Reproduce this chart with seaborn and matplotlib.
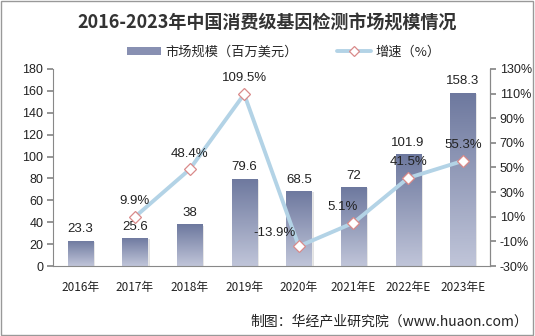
import matplotlib
matplotlib.use("Agg")
import matplotlib.pyplot as plt
import seaborn as sns
import numpy as np
import pandas as pd
from matplotlib.patches import Rectangle
from matplotlib.lines import Line2D
from matplotlib.colors import LinearSegmentedColormap

categories = ["2016年", "2017年", "2018年", "2019年", "2020年", "2021年E", "2022年E", "2023年E"]
market_size = [23.3, 25.6, 38, 79.6, 68.5, 72, 101.9, 158.3]
growth = [None, 9.9, 48.4, 109.5, -13.9, 5.1, 41.5, 55.3]
left_ticks = [0, 20, 40, 60, 80, 100, 120, 140, 160, 180]
right_ticks = [-30, -10, 10, 30, 50, 70, 90, 110, 130]

sns.set_theme(style="white")
plt.rcParams['font.family'] = ['Noto Sans CJK SC', 'DejaVu Sans']
NUM_FONT = "Liberation Sans"

df = pd.DataFrame({"cat": categories, "size": market_size, "growth": growth})

fig = plt.figure(figsize=(5.35, 3.36), dpi=100)
ax = fig.add_axes([0.099, 0.208, 0.817, 0.587])

sns.barplot(data=df, x="cat", y="size", ax=ax, color="#8890b2", width=0.46, zorder=2)
ax.set_ylim(0, 180)
ax.set_xlim(-0.5, len(categories) - 0.5)

# gradient fill on bars + shadow
cmap = LinearSegmentedColormap.from_list("g", ["#c0c5d9", "#6d789e"])
grad = np.linspace(0, 1, 256).reshape(-1, 1)
for p in list(ax.patches):
    x0, w, h = p.get_x(), p.get_width(), p.get_height()
    sh = Rectangle((x0 + 0.04, 0), w, h - 1.0, facecolor="#d0d0d0", edgecolor="none", alpha=0.6, zorder=1.5)
    ax.add_patch(sh)
    im = ax.imshow(grad, extent=[x0, x0 + w, 0, h], origin="lower", aspect="auto", cmap=cmap, zorder=2.5)
    im.set_clip_path(p)
    ax.text(x0 + w / 2, h + 5, f"{h:g}", ha="center", va="bottom", fontsize=9.5, color="#222222",
            family=NUM_FONT, zorder=5)
ax.set_xlim(-0.5, len(categories) - 0.5)
ax.set_ylim(0, 180)

ax.set_yticks(left_ticks)
ax.set_yticklabels([str(t) for t in left_ticks], family=NUM_FONT, fontsize=9)
ax.set_xticks(range(len(categories)))
ax.set_xticklabels(categories, fontsize=8.5)
ax.set_xlabel("")
ax.set_ylabel("")
ax.tick_params(axis="y", length=4, color="#888888", direction="out", left=True, pad=3, colors="#222222")
ax.tick_params(axis="x", length=0, pad=11, colors="#222222")
ax.spines["top"].set_visible(False)
for s in ["left", "bottom", "right"]:
    ax.spines[s].set_color("#888888")
    ax.spines[s].set_linewidth(0.8)

ax2 = ax.twinx()
gx = [i for i, g in enumerate(growth) if g is not None]
gy = [g for g in growth if g is not None]
gdf = pd.DataFrame({"x": gx, "y": gy})
sns.lineplot(data=gdf, x="x", y="y", ax=ax2, color="#b3d3e6", linewidth=2.8, zorder=3,
             marker="D", markersize=6, markerfacecolor="white", markeredgecolor="#d98a8a",
             markeredgewidth=0.9)
ax2.set_ylim(-30, 130)
ax2.set_xlim(-0.5, len(categories) - 0.5)
ax2.set_yticks(right_ticks)
ax2.set_yticklabels([f"{t}%" for t in right_ticks], family=NUM_FONT, fontsize=9)
ax2.set_ylabel("")
ax2.tick_params(axis="y", length=4, color="#888888", direction="out", right=True, pad=3, colors="#222222")
for s in ["top", "left", "bottom"]:
    ax2.spines[s].set_visible(False)
ax2.spines["right"].set_color("#888888")
ax2.spines["right"].set_linewidth(0.8)

offsets = {1: (0, 8), 2: (0, 8), 3: (0, 8), 4: (-0.45, 6), 5: (-0.2, 8), 6: (0, 8), 7: (0, 8)}
for x, y in zip(gx, gy):
    dx, dy = offsets.get(x, (0, 8))
    ax2.text(x + dx, y + dy, f"{y:g}%", ha="center", va="bottom", fontsize=9.5, color="#222222",
             family=NUM_FONT, zorder=6)

fig.text(0.5, 0.93, "2016-2023年中国消费级基因检测市场规模情况", ha="center", va="center",
         fontsize=13, fontweight="bold", color="#333333")

handles = [Rectangle((0, 0), 1, 1, facecolor="#8890b2", edgecolor="none"),
           Line2D([0], [0], color="#b3d3e6", linewidth=2.8, marker="D", markersize=5,
                  markerfacecolor="white", markeredgecolor="#d98a8a", markeredgewidth=0.9)]
fig.legend(handles, ["市场规模（百万美元）", "增速（%）"], loc="center", bbox_to_anchor=(0.53, 0.845),
           ncol=2, frameon=False, fontsize=9.5, handlelength=2.6, handleheight=0.5, columnspacing=3,
           handletextpad=0.3)

fig.text(0.988, 0.045, "制图：华经产业研究院（www.huaon.com）", ha="right", va="center", fontsize=10, color="#222222")

fig.add_artist(Rectangle((0.002, 0.003), 0.995, 0.993, transform=fig.transFigure, fill=False,
                         edgecolor="#999999", linewidth=1))

fig.savefig("out.png", dpi=100)
